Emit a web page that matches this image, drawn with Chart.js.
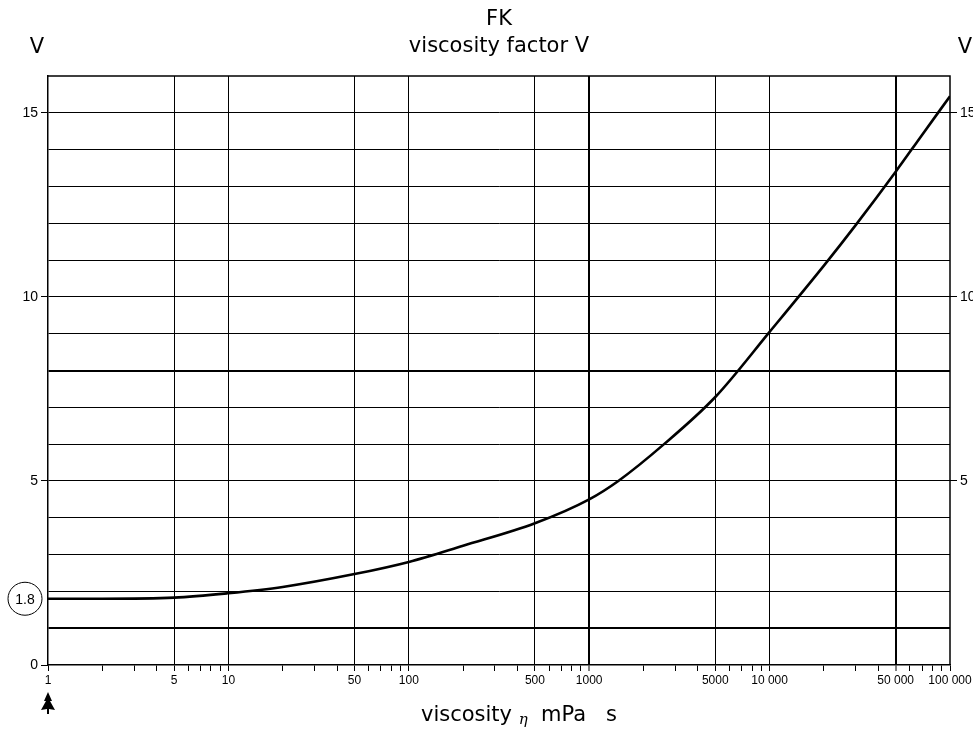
<!DOCTYPE html>
<html>
<head>
<meta charset="utf-8">
<title>FK viscosity factor V</title>
<script src="https://cdn.jsdelivr.net/npm/chart.js@4/dist/chart.umd.min.js"></script>
<style>
  html, body { margin: 0; padding: 0; background: #fff; }
  canvas { display: block; }
</style>
</head>
<body>
<canvas id="fk-chart" width="973" height="730"></canvas>
<script>
// ── Data ──────────────────────────────────────────────────────────────
const viscosity = [1, 2, 5, 10, 20, 50, 100, 200, 500, 1000, 1450, 2600, 5000,
                   10000, 20000, 30000, 50000, 70000, 100000];
const factorV   = [1.8, 1.8, 1.83, 1.95, 2.12, 2.47, 2.8, 3.24, 3.85, 4.5, 5, 6, 7.28,
                   9.05, 10.85, 11.95, 13.4, 14.4, 15.45];

const xLabelValues = [1, 5, 10, 50, 100, 500, 1000, 5000, 10000, 50000, 100000];
const xLabelTexts  = ['1', '5', '10', '50', '100', '500', '1000', '5000', '10 000', '50 000', '100 000'];
const yLabelValues = [0, 5, 10, 15];
const markedValue  = 1.8;

const BOLD_X = [1000, 50000];
const BOLD_Y = [1, 8];
const TITLE_FONT = '21px "DejaVu Sans", sans-serif';

// ── Helpers ───────────────────────────────────────────────────────────
const isMajorX = v => xLabelValues.includes(v);
const xLabel   = v => { const i = xLabelValues.indexOf(v); return i >= 0 ? xLabelTexts[i] : ''; };

function logTicks() {
    const out = [];
    for (let d = 1; d < 100000; d *= 10) {
        for (let m = 1; m <= 9; m++) out.push({ value: m * d });
    }
    out.push({ value: 100000 });
    return out;
}

// ── Extra drawing: frame, titles, circled value, arrow ────────────────
const decorations = {
    id: 'decorations',
    afterDraw(chart) {
        const { ctx, chartArea: a, scales } = chart;
        const cx = (a.left + a.right) / 2;
        ctx.save();

        // frame (top + right)
        ctx.strokeStyle = '#000';
        ctx.lineWidth = 1.5;
        ctx.beginPath();
        ctx.moveTo(a.left, a.top);
        ctx.lineTo(a.right, a.top);
        ctx.lineTo(a.right, a.bottom);
        ctx.stroke();

        // titles
        ctx.fillStyle = '#000';
        ctx.font = TITLE_FONT;
        ctx.textAlign = 'center';
        ctx.textBaseline = 'middle';
        ctx.fillText('FK', cx, 20);
        ctx.fillText('viscosity factor V', cx, 47);
        ctx.fillText('V', 37, 48);
        ctx.fillText('V', 965, 48);

        // x axis title: viscosity η mPa  s
        const parts = [
            { t: 'viscosity ', f: TITLE_FONT, dy: 0 },
            { t: 'η', f: 'italic 15px "DejaVu Serif", serif', dy: 4 },
            { t: '  mPa   s', f: TITLE_FONT, dy: 0 },
        ];
        let total = 0;
        parts.forEach(p => { ctx.font = p.f; p.w = ctx.measureText(p.t).width; total += p.w; });
        let x = 519 - total / 2;
        ctx.textAlign = 'left';
        parts.forEach(p => { ctx.font = p.f; ctx.fillText(p.t, x, 716 + p.dy); x += p.w; });

        // circled 1.8
        const yv = scales.y.getPixelForValue(markedValue);
        ctx.lineWidth = 1;
        ctx.beginPath();
        ctx.ellipse(25, yv, 17, 16.5, 0, 0, Math.PI * 2);
        ctx.stroke();
        ctx.font = '14px "Liberation Sans", sans-serif';
        ctx.textAlign = 'center';
        ctx.fillText(String(markedValue), 25, yv + 1);

        // arrow under x = 1
        const ax = scales.x.getPixelForValue(1);
        ctx.beginPath();
        ctx.moveTo(ax, 692);
        ctx.lineTo(ax - 4, 701);
        ctx.lineTo(ax - 2, 701);
        ctx.lineTo(ax - 7, 710);
        ctx.lineTo(ax - 1, 709);
        ctx.lineTo(ax - 1, 714);
        ctx.lineTo(ax + 1, 714);
        ctx.lineTo(ax + 1, 709);
        ctx.lineTo(ax + 7, 710);
        ctx.lineTo(ax + 2, 701);
        ctx.lineTo(ax + 4, 701);
        ctx.closePath();
        ctx.fill();

        ctx.restore();
    },
};

// ── Chart ─────────────────────────────────────────────────────────────
new Chart(document.getElementById('fk-chart'), {
    type: 'line',
    data: {
        datasets: [{
            label: 'viscosity factor V',
            data: viscosity.map((v, i) => ({ x: v, y: factorV[i] })),
            borderColor: '#000',
            borderWidth: 2.6,
            pointRadius: 0,
            cubicInterpolationMode: 'monotone',
            fill: false,
        }],
    },
    options: {
        responsive: false,
        animation: false,
        devicePixelRatio: 1,
        layout: { padding: { top: 76, left: 0, right: 0, bottom: 0 } },
        plugins: { legend: { display: false }, tooltip: { enabled: false } },
        scales: {
            x: {
                type: 'logarithmic',
                min: 1,
                max: 100000,
                afterBuildTicks: s => { s.ticks = logTicks(); },
                afterFit: s => { s.height = 65; s.paddingLeft = 0; s.paddingRight = 0; },
                border: { color: '#000', width: 1.5 },
                grid: {
                    color: c => (c.tick && isMajorX(c.tick.value) && c.tick.value !== 1 && c.tick.value !== 100000)
                        ? '#000' : 'rgba(0,0,0,0)',
                    lineWidth: c => (c.tick && BOLD_X.includes(c.tick.value)) ? 2 : 1,
                    tickColor: '#000',
                    tickWidth: 1,
                    tickLength: 6,
                },
                ticks: {
                    autoSkip: false,
                    maxRotation: 0,
                    padding: 2,
                    color: '#000',
                    font: { family: '"Liberation Sans", sans-serif', size: 12 },
                    callback: v => xLabel(v),
                },
            },
            y: {
                type: 'linear',
                position: 'left',
                min: 0,
                max: 16,
                afterFit: s => { s.width = 48; s.paddingTop = 0; s.paddingBottom = 0; },
                border: { color: '#000', width: 1.5 },
                grid: {
                    color: c => (c.tick && c.tick.value > 0 && c.tick.value < 16) ? '#000' : 'rgba(0,0,0,0)',
                    lineWidth: c => (c.tick && BOLD_Y.includes(c.tick.value)) ? 2 : 1,
                    tickColor: c => (c.tick && yLabelValues.includes(c.tick.value)) ? '#000' : 'rgba(0,0,0,0)',
                    tickLength: 7,
                },
                ticks: {
                    stepSize: 1,
                    autoSkip: false,
                    padding: 3,
                    color: '#000',
                    font: { family: '"Liberation Sans", sans-serif', size: 14 },
                    callback: v => yLabelValues.includes(v) ? String(v) : '',
                },
            },
            y2: {
                type: 'linear',
                position: 'right',
                min: 0,
                max: 16,
                afterFit: s => { s.width = 23; s.paddingTop = 0; s.paddingBottom = 0; },
                border: { display: false },
                grid: {
                    drawOnChartArea: false,
                    tickColor: c => (c.tick && c.tick.value > 0 && yLabelValues.includes(c.tick.value)) ? '#000' : 'rgba(0,0,0,0)',
                    tickLength: 7,
                },
                ticks: {
                    stepSize: 1,
                    autoSkip: false,
                    padding: 3,
                    color: '#000',
                    font: { family: '"Liberation Sans", sans-serif', size: 14 },
                    callback: v => (v > 0 && yLabelValues.includes(v)) ? String(v) : '',
                },
            },
        },
    },
    plugins: [decorations],
});
</script>
</body>
</html>
